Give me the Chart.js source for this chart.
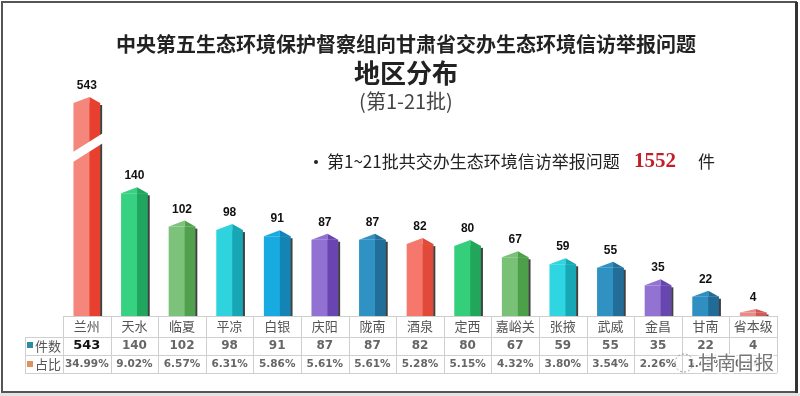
<!DOCTYPE html>
<html>
<head>
<meta charset="utf-8">
<script src="https://cdn.jsdelivr.net/npm/chart.js@4/dist/chart.umd.min.js"></script>
<style>
  body { margin: 0; background: #fff; }
</style>
</head>
<body>
<canvas id="grafico" width="800" height="396"></canvas>
<script>
// data
var categories = ["兰州", "天水", "临夏", "平凉", "白银", "庆阳", "陇南", "酒泉", "定西", "嘉峪关", "张掖", "武威", "金昌", "甘南", "省本级"];
var counts = [543, 140, 102, 98, 91, 87, 87, 82, 80, 67, 59, 55, 35, 22, 4];
var shares = ["34.99%", "9.02%", "6.57%", "6.31%", "5.86%", "5.61%", "5.61%", "5.28%", "5.15%", "4.32%", "3.80%", "3.54%", "2.26%", "1.42%", "0.26%"];
var total = 1552;
var axisMax = 243; // axis is broken, the 兰州 bar is cut at the top

var frontColors = ["#f5867c", "#36d282", "#7dc27b", "#2fd3de", "#18abe2", "#9172d2", "#2f92c3", "#f6786c", "#35cf7c", "#79c177", "#2fd5e0", "#2f92c3", "#9373d2", "#2f8fc1", "#ea8a86"];
var sideColors = ["#e8402e", "#20a65e", "#50a04e", "#17a6b3", "#1484b5", "#6845b0", "#216e98", "#e14a3a", "#22a65c", "#4d9f49", "#18a7b4", "#226e98", "#6846b0", "#216c96", "#d05a58"];

var CJK = '"Noto Sans CJK SC", "Noto Sans", sans-serif';

var decor = {
    id: 'decor',
    beforeDraw: function (chart) {
        var c = chart.ctx;
        c.save();
        c.fillStyle = '#fff';
        c.fillRect(0, 0, 800, 396);
        c.restore();
    },
    afterDatasetsDraw: function (chart) {
        var c = chart.ctx;
        var area = chart.chartArea;
        var meta = chart.getDatasetMeta(0);
        c.save();
        meta.data.forEach(function (el, i) {
            var top = Math.max(el.y, area.top);
            var w = el.width;
            var left = el.x - w / 2, right = el.x + w / 2;
            var sx = left + w * 0.6;
            var cap = Math.min(6, (el.base - top));
            // side face
            c.fillStyle = sideColors[i];
            c.fillRect(sx, top, right - sx, el.base - top);
            // gable cap
            c.fillStyle = frontColors[i];
            c.beginPath();
            c.moveTo(left, top); c.lineTo(sx, top - cap); c.lineTo(sx, top); c.closePath();
            c.fill();
            c.fillStyle = sideColors[i];
            c.beginPath();
            c.moveTo(sx, top - cap); c.lineTo(right, top); c.lineTo(sx, top); c.closePath();
            c.fill();
            // shadow
            c.fillStyle = 'rgba(0,0,0,0.75)';
            c.fillRect(right, top + 2, 2, el.base - top - 2);
            // value label
            c.fillStyle = '#111';
            c.font = 'bold 12px "Liberation Sans", Arial, sans-serif';
            c.textAlign = 'center';
            c.textBaseline = 'alphabetic';
            c.fillText(counts[i], el.x, top - cap - 8);
            // axis break on cut bar
            if (el.y < area.top) {
                c.fillStyle = '#fff';
                c.beginPath();
                c.moveTo(left - 2, top + 50);
                c.lineTo(right + 3, top + 30);
                c.lineTo(right + 3, top + 40);
                c.lineTo(left - 2, top + 60);
                c.closePath();
                c.fill();
            }
        });
        c.restore();
    },
    afterDraw: function (chart) {
        var c = chart.ctx;
        var area = chart.chartArea;
        var xs = chart.scales.x;
        c.save();
        // titles
        c.textAlign = 'center';
        c.textBaseline = 'middle';
        c.fillStyle = '#222';
        c.font = 'bold 20px ' + CJK;
        c.fillText('中央第五生态环境保护督察组向甘肃省交办生态环境信访举报问题', 406, 44);
        c.font = 'bold 26px ' + CJK;
        c.fillText('地区分布', 406, 73);
        c.fillStyle = '#444';
        c.font = '20px ' + CJK;
        c.fillText('(第1-21批)', 406, 101);

        // note
        c.textAlign = 'left';
        c.fillStyle = '#222';
        c.beginPath(); c.arc(316, 162, 2, 0, Math.PI * 2); c.fill();
        c.font = '17px ' + CJK;
        var note = '第1~21批共交办生态环境信访举报问题';
        c.fillText(note, 327, 162);
        c.fillStyle = '#c41e2a';
        c.font = 'bold 21px "Liberation Serif", "DejaVu Serif", serif';
        c.fillText(String(total), 634, 162);
        c.fillStyle = '#222';
        c.font = '17px ' + CJK;
        c.fillText('件', 698, 162);

        // table
        var rowY = [area.bottom, 337, 355, 373];
        var colL = 25;
        var step = (area.right - area.left) / categories.length;
        c.strokeStyle = '#cfcfcf';
        c.lineWidth = 1;
        c.beginPath();
        c.moveTo(area.left, rowY[0] + 0.5); c.lineTo(area.right, rowY[0] + 0.5);
        for (var r = 1; r < 4; r++) {
            c.moveTo(colL, rowY[r] + 0.5); c.lineTo(area.right, rowY[r] + 0.5);
        }
        c.moveTo(colL + 0.5, rowY[1]); c.lineTo(colL + 0.5, rowY[3]);
        for (var k = 0; k <= categories.length; k++) {
            var lx = Math.round(area.left + k * step) + 0.5;
            c.moveTo(lx, rowY[0]); c.lineTo(lx, rowY[3]);
        }
        c.stroke();

        c.textAlign = 'center';
        categories.forEach(function (name, i) {
            var cx = xs.getPixelForValue(i);
            c.fillStyle = '#555';
            c.font = '13px ' + CJK;
            c.fillText(name, cx, 326);
            if (i === 0) {
                c.fillStyle = '#111';
                c.font = 'bold 13px "DejaVu Sans", sans-serif';
            } else {
                c.fillStyle = '#666';
                c.font = 'bold 12px "DejaVu Sans", sans-serif';
            }
            c.fillText(counts[i], cx, 346);
            c.fillStyle = '#666';
            c.font = 'bold 10.5px "DejaVu Sans", sans-serif';
            c.fillText(shares[i], cx, 364);
        });

        // row headers
        c.textAlign = 'left';
        c.fillStyle = '#2a8c9c';
        c.fillRect(27, 342, 6, 6);
        c.fillStyle = '#e0905a';
        c.fillRect(27, 361, 6, 6);
        c.fillStyle = '#555';
        c.font = '13px ' + CJK;
        c.fillText('件数', 35, 346);
        c.fillText('占比', 35, 364);

        // watermark
        c.strokeStyle = '#999';
        c.lineWidth = 1;
        c.setLineDash([2, 2]);
        c.beginPath(); c.arc(684, 363, 9, 0, Math.PI * 2); c.stroke();
        c.setLineDash([]);
        c.font = '19px ' + CJK;
        c.lineWidth = 3;
        c.strokeStyle = 'rgba(255,255,255,0.9)';
        c.strokeText('甘南日报', 698, 363);
        c.fillStyle = '#777';
        c.fillText('甘南日报', 698, 363);

        // frame
        c.fillStyle = '#e4e4e4';
        c.fillRect(0, 393, 800, 3);
        c.strokeStyle = '#555';
        c.lineWidth = 2;
        c.strokeRect(2, 2, 794, 390);
        c.fillStyle = '#333';
        c.fillRect(795, 2, 3, 391);
        c.restore();
    }
};

var ctx = document.getElementById("grafico").getContext('2d');
var grafico = new Chart(ctx, {
    type: 'bar',
    data: {
        labels: categories,
        datasets: [
            {
                label: "件数",
                data: counts,
                backgroundColor: frontColors,
                borderWidth: 0,
                barPercentage: 0.56,
                categoryPercentage: 1
            }
        ]
    },
    options: {
        responsive: false,
        animation: false,
        layout: { padding: { left: 63, right: 23, top: 103, bottom: 80 } },
        scales: {
            x: { display: false },
            y: { display: false, min: 0, max: axisMax }
        },
        plugins: {
            legend: { display: false },
            tooltip: { enabled: false }
        }
    },
    plugins: [decor]
});
</script>
</body>
</html>
